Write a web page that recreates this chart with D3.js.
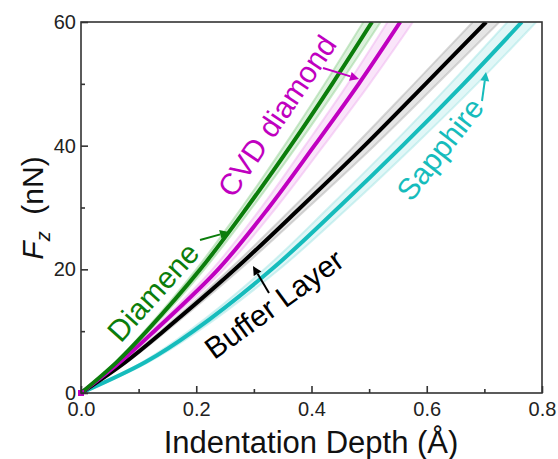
<!DOCTYPE html>
<html>
<head>
<meta charset="utf-8">
<script src="https://cdn.jsdelivr.net/npm/d3@7"></script>
<style>
  body { margin: 0; background: #fff; }
  text { font-family: Arial, "Liberation Sans", sans-serif; }
</style>
</head>
<body>
<svg width="558" height="459"></svg>
<script>
// force levels (nN) at which the depth of each curve was read
var forces = [0, 5, 10, 20, 30, 40, 50, 60];

// depth (A) for each sample
var diamene    = [0, 0.062, 0.114, 0.207, 0.288, 0.364, 0.436, 0.505];
var diameneLo  = [0, 0.060, 0.110, 0.200, 0.279, 0.353, 0.423, 0.490];
var diameneHi  = [0, 0.064, 0.118, 0.214, 0.297, 0.375, 0.449, 0.520];

var cvd        = [0, 0.068, 0.127, 0.238, 0.326, 0.405, 0.482, 0.554];
var cvdLo      = [0, 0.065, 0.122, 0.228, 0.313, 0.389, 0.463, 0.532];
var cvdHi      = [0, 0.071, 0.132, 0.248, 0.339, 0.421, 0.501, 0.576];

var buffer     = [0, 0.077, 0.143, 0.267, 0.381, 0.492, 0.598, 0.703];
var bufferLo   = [0, 0.074, 0.138, 0.258, 0.368, 0.475, 0.578, 0.680];
var bufferHi   = [0, 0.080, 0.148, 0.276, 0.394, 0.509, 0.618, 0.726];

var sapphire   = [0, 0.112, 0.195, 0.331, 0.447, 0.558, 0.664, 0.765];
var sapphireLo = [0, 0.107, 0.187, 0.318, 0.430, 0.538, 0.641, 0.740];
var sapphireHi = [0, 0.117, 0.203, 0.344, 0.464, 0.578, 0.687, 0.790];

var xTicks = [0, 0.2, 0.4, 0.6, 0.8];
var yTicks = [0, 20, 40, 60];

var svg = d3.select("svg");
var pL = 81, pR = 542, pT = 22, pB = 393;

var x = d3.scaleLinear().domain([0, 0.8]).range([pL, pR]);
var y = d3.scaleLinear().domain([0, 60]).range([pB, pT]);

svg.append("defs").append("clipPath").attr("id", "plot")
  .append("rect").attr("x", pL).attr("y", pT)
  .attr("width", pR - pL).attr("height", pB - pT);

var series = [
  {name: "Diamene",      d: diamene,  lo: diameneLo,  hi: diameneHi,  color: "#0b7d0b", band: "#8ccf8c"},
  {name: "CVD diamond",  d: cvd,      lo: cvdLo,      hi: cvdHi,      color: "#c000c0", band: "#eeaaee"},
  {name: "Buffer Layer", d: buffer,   lo: bufferLo,   hi: bufferHi,   color: "#000000", band: "#a8a8a8"},
  {name: "Sapphire",     d: sapphire, lo: sapphireLo, hi: sapphireHi, color: "#16bcbc", band: "#9be3e3"}
];

var g = svg.append("g").attr("clip-path", "url(#plot)");

var band = d3.area()
  .y(function(d) { return y(d.f); })
  .x0(function(d) { return x(d.lo); })
  .x1(function(d) { return x(d.hi); })
  .curve(d3.curveCatmullRom.alpha(0.5));
var edge = d3.line()
  .y(function(d) { return y(d.f); })
  .x(function(d) { return x(d.v); })
  .curve(d3.curveCatmullRom.alpha(0.5));

series.forEach(function(s) {
  var pts = forces.map(function(f, i) { return {f: f, lo: s.lo[i], hi: s.hi[i]}; });
  g.append("path").attr("d", band(pts)).attr("fill", s.band).attr("opacity", 0.3);
  g.append("path").attr("d", edge(forces.map(function(f, i) { return {f: f, v: s.lo[i]}; })))
    .attr("fill", "none").attr("stroke", s.band).attr("stroke-width", 2).attr("opacity", 0.45);
  g.append("path").attr("d", edge(forces.map(function(f, i) { return {f: f, v: s.hi[i]}; })))
    .attr("fill", "none").attr("stroke", s.band).attr("stroke-width", 2).attr("opacity", 0.45);
});
// draw in reverse so green sits on top
series.slice().reverse().forEach(function(s) {
  g.append("path")
    .attr("d", edge(forces.map(function(f, i) { return {f: f, v: s.d[i]}; })))
    .attr("fill", "none").attr("stroke", s.color).attr("stroke-width", 4);
});

svg.append("rect").attr("x", x(0) - 3).attr("y", y(0) - 3).attr("width", 6).attr("height", 6)
  .attr("fill", "#c000c0");

// axes
var axisColor = "#333";
var xAxis = svg.append("g").attr("transform", "translate(0," + pB + ")")
  .call(d3.axisBottom(x).tickValues(xTicks).tickSizeInner(-7).tickSizeOuter(0)
    .tickPadding(12).tickFormat(d3.format(".1f")));
var xMinor = svg.append("g").attr("transform", "translate(0," + pB + ")")
  .call(d3.axisBottom(x).tickValues([0.1, 0.3, 0.5, 0.7]).tickSize(-4).tickFormat(""));
var yAxis = svg.append("g").attr("transform", "translate(" + pL + ",0)")
  .call(d3.axisLeft(y).tickValues(yTicks).tickSizeInner(-7).tickSizeOuter(0).tickPadding(10));
var yMinor = svg.append("g").attr("transform", "translate(" + pL + ",0)")
  .call(d3.axisLeft(y).tickValues([10, 30, 50]).tickSize(-4).tickFormat(""));

[xAxis, xMinor, yAxis, yMinor].forEach(function(a) {
  a.selectAll("path").remove();
  a.selectAll("line").attr("stroke", axisColor).attr("stroke-width", 1.6);
  a.selectAll("text").attr("font-size", 20).attr("fill", "#222")
    .style("font-family", "Arial, 'Liberation Sans', sans-serif");
});
xAxis.selectAll("text").attr("y", 8).attr("dy", "0.75em");
yAxis.selectAll("text").attr("x", -5);

svg.append("rect").attr("x", pL).attr("y", pT)
  .attr("width", pR - pL).attr("height", pB - pT)
  .attr("fill", "none").attr("stroke", axisColor).attr("stroke-width", 1.6);

// axis titles
svg.append("text").attr("x", 311).attr("y", 453)
  .attr("text-anchor", "middle").attr("font-size", 31).attr("fill", "#111")
  .text("Indentation Depth (\u00c5)");

var yl = svg.append("text").attr("transform", "translate(43,208) rotate(-90)")
  .attr("text-anchor", "middle").attr("font-size", 30).attr("fill", "#111");
yl.append("tspan").attr("font-style", "italic").text("F");
yl.append("tspan").attr("font-style", "italic").attr("font-size", 20).attr("dy", 7).text("z");
yl.append("tspan").attr("dy", -7).text("\u00a0\u00a0(nN)");

// curve labels
var labels = [
  {text: "Diamene",      cx: 153, cy: 292, a: -48, color: "#0b7d0b"},
  {text: "CVD diamond",  cx: 277, cy: 116, a: -56, color: "#c000c0"},
  {text: "Buffer Layer", cx: 274, cy: 304, a: -36, color: "#000000"},
  {text: "Sapphire",     cx: 440, cy: 149, a: -52, color: "#16bcbc"}
];
labels.forEach(function(l) {
  svg.append("text")
    .attr("transform", "translate(" + l.cx + "," + l.cy + ") rotate(" + l.a + ")")
    .attr("text-anchor", "middle").attr("dy", "0.35em")
    .attr("font-size", 30).attr("fill", l.color).text(l.text);
});

// arrows
var arrows = [
  {x1: 200, y1: 240, x2: 229, y2: 232, color: "#0b7d0b"},
  {x1: 323, y1: 68,  x2: 359, y2: 79,  color: "#c000c0"},
  {x1: 269, y1: 293, x2: 253, y2: 266, color: "#000000"},
  {x1: 482, y1: 101, x2: 486, y2: 72,  color: "#16bcbc"}
];
arrows.forEach(function(a) {
  var ang = Math.atan2(a.y2 - a.y1, a.x2 - a.x1);
  var len = 9, w = 4.5;
  var bx = a.x2 - len * Math.cos(ang), by = a.y2 - len * Math.sin(ang);
  svg.append("line").attr("x1", a.x1).attr("y1", a.y1).attr("x2", bx).attr("y2", by)
    .attr("stroke", a.color).attr("stroke-width", 2);
  svg.append("path")
    .attr("d", "M" + a.x2 + "," + a.y2 +
      "L" + (bx + w * Math.sin(ang)) + "," + (by - w * Math.cos(ang)) +
      "L" + (bx - w * Math.sin(ang)) + "," + (by + w * Math.cos(ang)) + "Z")
    .attr("fill", a.color);
});
</script>
</body>
</html>
